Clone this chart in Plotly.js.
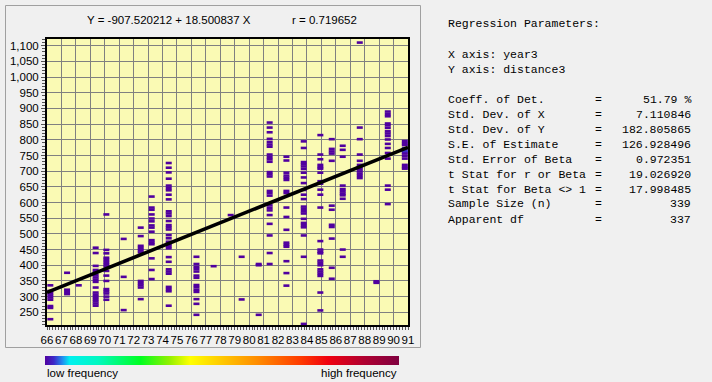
<!DOCTYPE html>
<html>
<head>
<meta charset="utf-8">
<script src="https://cdn.plot.ly/plotly-3.0.1.min.js"></script>
<style>
html,body{margin:0;padding:0;background:#F0F0F0;}
#chart{width:712px;height:382px;}
</style>
</head>
<body>
<div id="chart"></div>
<script>
// ---- data ----
const colYears = [66.23, 67.39, 68.2, 69.37, 70.11, 71.31, 72.49, 73.25, 74.43, 76.35, 77.54, 78.72,
                  79.48, 80.66, 81.42, 82.58, 83.78, 84.93, 85.72, 86.48, 87.66, 88.81, 89.6, 90.78];
const d66 = [336, 318, 311, 304, 297, 290, 270, 264, 228];
const d67 = [376, 322, 315, 308];
const d68 = [336];
const d69 = [456, 439, 398, 385, 378, 368, 361, 354, 347, 329, 313, 306, 299, 292, 285, 278, 271];
const d70 = [562, 449, 438, 424, 417, 410, 403, 396, 382, 367, 350, 324, 317, 310, 300, 290];
const d71 = [484, 363, 257];
const d72 = [520, 493, 462, 455, 448, 441, 350, 343, 336, 329, 292];
const d73 = [619, 584, 577, 562, 549, 540, 527, 520, 507, 480, 473, 467, 422, 385, 356];
const d74 = [726, 711, 696, 676, 654, 646, 639, 625, 610, 572, 565, 557, 541, 528, 521, 514, 496, 486,
             475, 468, 461, 454, 426, 411, 387, 380, 373, 331, 324, 317, 271];
const d76 = [427, 404, 395, 388, 380, 367, 360, 337, 330, 322, 315, 292, 277, 242];
const d77 = [397];
const d78 = [560];
const d79 = [427, 291];
const d80 = [404, 400, 242];
const d81 = [855, 839, 824, 803, 793, 785, 778, 753, 745, 738, 730, 697, 690, 683, 637, 630, 622, 591,
             583, 575, 560, 532, 495, 439, 404];
const d82 = [746, 734, 695, 686, 679, 672, 637, 630, 584, 554, 513, 472, 465, 459, 413, 375, 335];
const d83 = [795, 774, 729, 722, 715, 707, 695, 680, 662, 640, 625, 611, 587, 580, 572, 565, 548, 535,
             528, 521, 495, 427, 213];
const d84 = [815, 753, 738, 720, 713, 708, 695, 668, 660, 641, 625, 584, 477, 450, 443, 438, 415, 408,
             400, 387, 380, 373, 366, 313, 256];
const d85 = [802, 771, 763, 756, 733, 590, 577, 529, 522, 485, 392, 357];
const d86 = [781, 768, 746, 654, 643, 636, 629, 623, 612, 450, 427];
const d87 = [1110, 839, 802, 753, 733, 720, 713, 706, 699, 692, 685, 678];
const d88 = [349, 344];
const d89 = [890, 882, 875, 852, 846, 838, 827, 820, 812, 801, 787, 774, 758, 740, 654, 641, 595];
const d90 = [796, 789, 783, 773, 766, 760, 756, 748, 740, 720, 713, 708];
const f90 = [1, 1, 1, 2, 2, 2, 1, 1, 1, 1, 1, 1];   // frequency of the last column (others are 1)
const colDist = [d66, d67, d68, d69, d70, d71, d72, d73, d74, d76, d77, d78,
                 d79, d80, d81, d82, d83, d84, d85, d86, d87, d88, d89, d90];

const intercept = -907.520212, slope = 18.500837, rVal = 0.719652;
const xTicks = [66,67,68,69,70,71,72,73,74,75,76,77,78,79,80,81,82,83,84,85,86,87,88,89,90,91];
const statLabels = ["Coeff. of Det.", "Std. Dev. of X", "Std. Dev. of Y", "S.E. of Estimate",
                    "Std. Error of Beta", "t Stat for r or Beta", "t Stat for Beta &lt;&gt; 1",
                    "Sample Size (n)", "Apparent df"];
const statValues = ["51.79 %", "7.110846", "182.805865", "126.928496", "0.972351", "19.026920",
                    "17.998485", "339", "337"];

// ---- build traces ----
const xs = [], ys = [], fq = [];
colDist.forEach((arr, i) => {
  arr.forEach((v, j) => {
    xs.push(colYears[i]); ys.push(v);
    fq.push(i === colDist.length - 1 ? f90[j] : 1);
  });
});

const scale = [[0,'#50009F'],[0.025,'#3C28C8'],[0.05,'#2090F0'],[0.07,'#00F0F0'],[0.15,'#00F8C0'],
  [0.27,'#00FF20'],[0.35,'#90F000'],[0.41,'#FFFF00'],[0.5,'#FFC800'],[0.6,'#FF8C00'],
  [0.72,'#FF3C00'],[0.8,'#F00010'],[0.9,'#B00030'],[1,'#800040']];

const L = 47, T = 39, W = 361, H = 286;
const PX = p => (p - L) / W;
const PY = p => 1 - (p - T) / H;

const marks = {
  type: 'scatter', mode: 'markers', x: xs, y: ys, hoverinfo: 'skip',
  marker: {
    symbol: 'line-ew', size: 4.3,
    color: fq, colorscale: scale, cmin: 1, cmax: 40, showscale: true,
    colorbar: {orientation: 'h', thickness: 9, thicknessmode: 'pixels', len: 354, lenmode: 'pixels',
      x: PX(45), xanchor: 'left', y: PY(356), yanchor: 'top', xpad: 0, ypad: 0,
      outlinewidth: 0, showticklabels: false, ticks: ''},
    line: {width: 2.6, color: fq, colorscale: scale, cmin: 1, cmax: 40}
  }
};
const regX = [66, 91];
const reg = {
  type: 'scatter', mode: 'lines', x: regX, y: regX.map(x => intercept + slope * x),
  line: {color: '#000000', width: 3.6}, hoverinfo: 'skip'
};

const FONT = 'Liberation Sans, Arial, sans-serif';
const MONO = 'Liberation Mono, Courier New, monospace';
const ann = [];
ann.push({xref:'paper', yref:'paper', x:PX(85), y:PY(20), xanchor:'left', yanchor:'middle', showarrow:false,
  text:'Y = ' + intercept.toFixed(6) + ' + ' + slope.toFixed(6) + ' X', font:{family:FONT, size:11.5, color:'#000'}});
ann.push({xref:'paper', yref:'paper', x:PX(290), y:PY(20), xanchor:'left', yanchor:'middle', showarrow:false,
  text:'r = ' + rVal.toFixed(6), font:{family:FONT, size:11.5, color:'#000'}});
ann.push({xref:'paper', yref:'paper', x:PX(45), y:PY(373), xanchor:'left', yanchor:'middle', showarrow:false,
  text:'low frequency', font:{family:FONT, size:11.5, color:'#000'}});
ann.push({xref:'paper', yref:'paper', x:PX(399), y:PY(373), xanchor:'right', yanchor:'middle', showarrow:false,
  text:'high frequency', font:{family:FONT, size:11.5, color:'#000'}});
const mf = {family: MONO, size: 11.5, color: '#000'};
const headLines = [[24, 'Regression Parameters:'], [54, 'X axis: year3'], [69, 'Y axis: distance3']];
headLines.forEach(h => ann.push({xref:'paper', yref:'paper', x:PX(446), y:PY(h[0]), xanchor:'left',
  yanchor:'middle', showarrow:false, text:h[1], font:mf}));
statLabels.forEach((s, i) => {
  const yy = 99 + 15 * i;
  ann.push({xref:'paper', yref:'paper', x:PX(446), y:PY(yy), xanchor:'left', yanchor:'middle', showarrow:false, text:s, font:mf});
  ann.push({xref:'paper', yref:'paper', x:PX(598), y:PY(yy), xanchor:'center', yanchor:'middle', showarrow:false, text:'=', font:mf});
  ann.push({xref:'paper', yref:'paper', x:PX(692.5), y:PY(yy), xanchor:'right', yanchor:'middle', showarrow:false, text:statValues[i], font:mf});
});

const layout = {
  width: 712, height: 382, margin: {l: L, r: 712 - L - W, t: T, b: 382 - T - H, pad: 0},
  paper_bgcolor: '#F0F0F0', plot_bgcolor: '#FAFAB4', showlegend: false,
  font: {family: FONT, size: 12, color: '#000'},
  xaxis: {range: [66, 91], tickvals: xTicks, ticktext: xTicks.map(String), tickangle: 0,
    showgrid: true, gridcolor: '#808080', gridwidth: 1, zeroline: false,
    showline: true, linecolor: '#000', linewidth: 2, mirror: true,
    ticks: 'outside', ticklen: 3, tickcolor: '#555', tickfont: {family: FONT, size: 11.5, color: '#000'},
    minor: {dtick: 0.2, tick0: 66, ticks: 'outside', ticklen: 3, tickcolor: '#555', showgrid: false}},
  yaxis: {range: [209.5, 1121.4], tick0: 250, dtick: 50, tickformat: ',d',
    showgrid: true, gridcolor: '#808080', gridwidth: 1, zeroline: false,
    showline: true, linecolor: '#000', linewidth: 2, mirror: true,
    ticks: 'outside', ticklen: 4, tickcolor: '#555', tickfont: {family: FONT, size: 11.5, color: '#000'},
    minor: {dtick: 10, tick0: 250, ticks: 'outside', ticklen: 3, tickcolor: '#555', showgrid: false}},
  shapes: [{type: 'rect', xref: 'paper', yref: 'paper', x0: PX(5.5), x1: PX(420.5), y0: PY(347.5), y1: PY(5.5),
    line: {color: '#A0A0A0', width: 1}, fillcolor: 'rgba(0,0,0,0)'}],
  annotations: ann
};

Plotly.newPlot('chart', [marks, reg], layout, {staticPlot: true, displayModeBar: false});
</script>
</body>
</html>
